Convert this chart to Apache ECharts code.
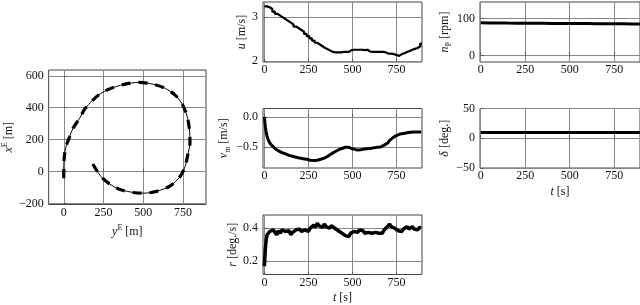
<!DOCTYPE html>
<html><head><meta charset="utf-8">
<script src="https://cdn.jsdelivr.net/npm/echarts@6/dist/echarts.min.js"></script>
<style>html,body{margin:0;padding:0;background:#fff}#c{width:640px;height:305px}</style>
</head><body><div id="c"></div>
<script>
// ---- data ----
// trajectory: east position y^E (horizontal) and north position x^E (vertical), metres
const trajYE = [0, 0, 6, 14, 37, 58, 100, 131, 183, 234, 297, 379, 473, 566, 639, 701, 743, 774, 790, 794, 780, 763, 732, 670, 587, 504, 442, 359, 297, 234, 183];
const trajXE = [-41, 31, 115, 156, 219, 271, 334, 390, 448, 490, 521, 546, 559, 546, 521, 479, 427, 354, 271, 181, 104, 31, -31, -89, -123, -135, -131, -114, -83, -31, 48];

// surge speed u [m/s] (staircase)
const uT = [0,15,30,45,60,75,90,105,120,135,150,165,180,195,210,225,240,255,270,285,300,315,330,345,360,375,390,405,420,435,450,465,480,495,510,525,540,555,570,585,600,615,630,645,660,675,690,705,720,735,750,765,780,795,810,825,840,855,870,885,895];
const uV = [3.25,3.23,3.19,3.13,3.08,3.04,3.00,2.96,2.92,2.88,2.84,2.79,2.75,2.71,2.67,2.62,2.57,2.52,2.47,2.42,2.38,2.34,2.30,2.27,2.24,2.21,2.20,2.20,2.20,2.21,2.21,2.21,2.25,2.26,2.26,2.26,2.26,2.25,2.26,2.22,2.21,2.21,2.21,2.21,2.21,2.20,2.17,2.17,2.16,2.14,2.12,2.16,2.18,2.21,2.23,2.26,2.28,2.30,2.34,2.40,2.41];

// sway speed v_m [m/s]
const vT = [0,3,6,10,15,20,30,40,50,60,70,80,90,100,110,120,130,140,150,160,170,180,190,200,210,220,230,240,250,260,270,280,290,300,310,320,330,340,350,360,370,380,390,400,410,420,430,440,450,460,470,480,490,500,510,520,530,540,550,560,570,580,590,600,610,620,630,640,650,660,670,680,690,700,710,720,730,740,750,760,770,780,790,800,810,820,830,840,850,860,870,880,890];
const vV = [0.0,-0.1,-0.18,-0.25,-0.32,-0.37,-0.43,-0.47,-0.50,-0.525,-0.535,-0.565,-0.565,-0.595,-0.595,-0.615,-0.615,-0.64,-0.635,-0.655,-0.655,-0.67,-0.665,-0.685,-0.68,-0.695,-0.695,-0.705,-0.705,-0.72,-0.715,-0.725,-0.715,-0.72,-0.705,-0.705,-0.685,-0.685,-0.66,-0.655,-0.625,-0.615,-0.585,-0.58,-0.555,-0.55,-0.525,-0.525,-0.505,-0.505,-0.485,-0.505,-0.51,-0.53,-0.53,-0.545,-0.54,-0.55,-0.535,-0.54,-0.525,-0.53,-0.515,-0.525,-0.51,-0.515,-0.5,-0.505,-0.495,-0.5,-0.485,-0.47,-0.445,-0.435,-0.395,-0.375,-0.345,-0.335,-0.31,-0.305,-0.285,-0.29,-0.275,-0.275,-0.265,-0.27,-0.255,-0.265,-0.25,-0.26,-0.25,-0.26,-0.25];

// yaw rate r [deg./s]
const rT = [0,5,10,15,20,30,40,50,60,70,80,90,100,110,120,130,140,150,160,170,180,190,200,210,220,230,240,250,260,270,280,290,300,310,320,330,340,350,360,370,380,390,400,410,420,430,440,450,460,470,480,490,500,510,520,530,540,550,560,570,580,590,600,610,620,630,640,650,660,670,680,690,700,710,720,730,740,750,760,770,780,790,800,810,820,830,840,850,860,870,880,890];
const rV = [0.17,0.27,0.33,0.36,0.37,0.38,0.37,0.39,0.38,0.36,0.385,0.37,0.39,0.40,0.38,0.37,0.385,0.36,0.375,0.37,0.39,0.38,0.395,0.38,0.37,0.39,0.395,0.38,0.40,0.41,0.42,0.405,0.43,0.415,0.42,0.405,0.425,0.41,0.42,0.40,0.415,0.41,0.40,0.395,0.385,0.39,0.37,0.365,0.355,0.36,0.35,0.37,0.365,0.38,0.385,0.375,0.39,0.38,0.385,0.37,0.36,0.375,0.365,0.37,0.36,0.375,0.365,0.37,0.38,0.37,0.39,0.40,0.41,0.425,0.41,0.415,0.40,0.395,0.385,0.39,0.38,0.395,0.40,0.41,0.395,0.40,0.41,0.395,0.40,0.39,0.405,0.40];

// propeller speed n_P [rpm]
const nT = [0,50,100,150,200,250,300,350,400,450,500,550,600,650,700,750,800,850,895];
const nV = [88.5,88,88.2,87.8,87.5,87.6,87.2,87,86.8,86.9,86.5,86.3,86.4,86,85.8,85.6,85.7,85.5,85.3];

// rudder angle delta [deg.]
const dT = [0, 895];
const dV = [9.6, 9.6];

// tick labels
const tTicks = [0, 250, 500, 750];
const eastTicks = [0, 250, 500, 750];
const northTicks = [-200, 0, 200, 400, 600];
const uTicks = [2, 3];
const vTicks = [-0.5, 0.0];
const rTicks = [0.2, 0.4];
const nTicks = [0, 100];
const dTicks = [-50, 0, 50];

// ---- chart ----
const FONT = 'Liberation Serif';
const minus = s => String(s).replace('-', '\u2212');
const rich = {
  i: {fontFamily: FONT, fontStyle: 'italic', fontSize: 12, lineHeight: 16, color: '#111'},
  n: {fontFamily: FONT, fontSize: 12, lineHeight: 16, color: '#111'},
  sup: {fontFamily: FONT, fontSize: 8, lineHeight: 8, verticalAlign: 'top', color: '#111'},
  sub: {fontFamily: FONT, fontSize: 8, lineHeight: 8, verticalAlign: 'bottom', color: '#111'}
};
function axisBase(gi, min, max, ticks, fmt, margin) {
  return {
    type: 'value', gridIndex: gi, min: min, max: max,
    axisLine: {show: false},
    axisTick: {show: true, inside: true, length: 3, customValues: ticks, lineStyle: {color: '#555'}},
    splitLine: {show: true, lineStyle: {color: '#888888', width: 1, opacity: 1}},
    axisLabel: {customValues: ticks, formatter: fmt, fontFamily: FONT, fontSize: 12, color: '#111', margin: margin},
    nameTextStyle: {rich: rich}
  };
}
function xAx(gi, min, max, ticks, name, gap) {
  const a = axisBase(gi, min, max, ticks, v => minus(v), 2);
  if (name) { a.name = name; a.nameLocation = 'middle'; a.nameGap = gap; }
  return a;
}
function yAx(gi, min, max, ticks, fmt, name, gap) {
  const a = axisBase(gi, min, max, ticks, fmt, 5);
  a.name = name; a.nameLocation = 'middle'; a.nameGap = gap; a.nameRotate = 90;
  return a;
}
const gridStyle = {show: true, borderColor: '#444'};
const grids = [
  Object.assign({left: 47, top: 70, width: 159, height: 134.5}, gridStyle),
  Object.assign({left: 263, top: 2, width: 159, height: 60}, gridStyle),
  Object.assign({left: 263, top: 108.5, width: 159, height: 59.5}, gridStyle),
  Object.assign({left: 263, top: 215, width: 159, height: 59.5}, gridStyle),
  Object.assign({left: 480, top: 2, width: 160, height: 60}, gridStyle),
  Object.assign({left: 480, top: 108.5, width: 160, height: 59.5}, gridStyle)
];
const f1 = v => minus(v.toFixed(1));
const f0 = v => minus(Math.round(v));
const xAxes = [
  xAx(0, -95, 895, eastTicks, '{i|y}{sup|E}{n| [m]}', 19),
  xAx(1, -8, 895, tTicks),
  xAx(2, -8, 895, tTicks),
  xAx(3, -8, 895, tTicks, '{i|t}{n| [s]}', 15),
  xAx(4, -4, 895, tTicks),
  xAx(5, -4, 895, tTicks, '{i|t}{n| [s]}', 16)
];
const yAxes = [
  yAx(0, -206, 636, northTicks, f0, '{i|x}{sup|E}{n| [m]}', 31),
  yAx(1, 1.98, 3.35, uTicks, f0, '{i|u}{n| [m/s]}', 13),
  yAx(2, -0.85, 0.14, vTicks, f1, '{i|v}{sub|m}{n| [m/s]}', 26),
  yAx(3, 0.12, 0.48, rTicks, f1, '{i|r}{n| [deg./s]}', 18),
  yAx(4, -18, 145, nTicks, f0, '{i|n}{sub|P}{n| [rpm]}', 22),
  yAx(5, -50, 50, dTicks, f0, '{i|δ}{n| [deg.]}', 27)
];
const zip = (a, b) => a.map((v, i) => [v, b[i]]);
const lineS = (gi, data, w, extra) => Object.assign({
  type: 'line', xAxisIndex: gi, yAxisIndex: gi, data: data, showSymbol: false,
  lineStyle: {color: '#000', width: w}
}, extra || {});
const traj = zip(trajYE, trajXE);
const series = [
  lineS(0, traj, 1, {smooth: 0.3}),
  lineS(0, traj, 3.2, {smooth: 0.3, lineStyle: {color: '#000', width: 3.2, type: [9, 8]}}),
  lineS(1, zip(uT, uV), 2.2, {step: 'end'}),
  lineS(2, zip(vT, vV), 3),
  lineS(3, zip(rT, rV), 3.5),
  lineS(4, zip(nT, nV), 3),
  lineS(5, zip(dT, dV), 3)
];
const chart = echarts.init(document.getElementById('c'));
chart.setOption({animation: false, grid: grids, xAxis: xAxes, yAxis: yAxes, series: series});
</script></body></html>
